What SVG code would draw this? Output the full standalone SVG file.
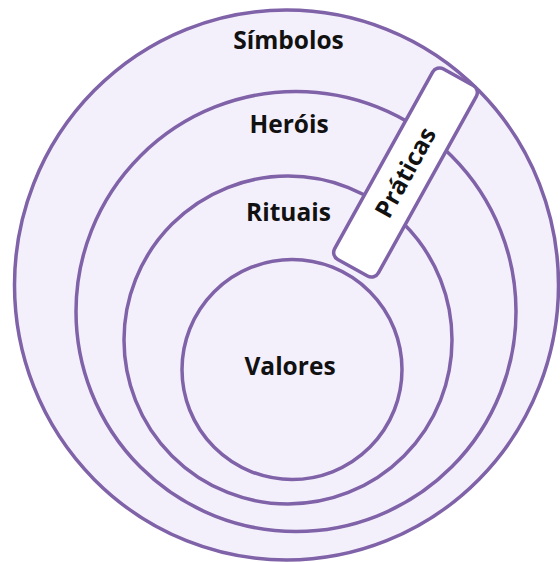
<svg xmlns="http://www.w3.org/2000/svg" width="560" height="562" viewBox="0 0 560 562">
<style>
.ring{fill:#f4f0fb;stroke:#7f62a8;stroke-width:3.5}
.lbl{font-family:"Open Sans","Liberation Sans",sans-serif;font-weight:700;font-size:24.5px;fill:#111;text-anchor:middle}
</style>
<rect width="560" height="562" fill="#ffffff"/>
<g id="simbolos">
<ellipse class="ring" cx="286.5" cy="285" rx="272" ry="275"/>
<text class="lbl" x="288.5" y="49">Símbolos</text>
</g>
<g id="herois">
<circle class="ring" cx="296" cy="311.5" r="220"/>
<text class="lbl" x="289" y="133">Heróis</text>
</g>
<g id="rituais">
<circle class="ring" cx="288" cy="340" r="164"/>
<text class="lbl" x="288.5" y="221">Rituais</text>
</g>
<g id="valores">
<circle class="ring" cx="292" cy="369.5" r="110"/>
<text class="lbl" x="290" y="375">Valores</text>
</g>
<g id="praticas" transform="translate(405.5,172.5) rotate(-61)">
<rect x="-109" y="-25" width="218" height="50" rx="8" fill="#ffffff" stroke="#7f62a8" stroke-width="3.5"/>
<text class="lbl" x="0" y="8.5">Práticas</text>
</g>
</svg>
